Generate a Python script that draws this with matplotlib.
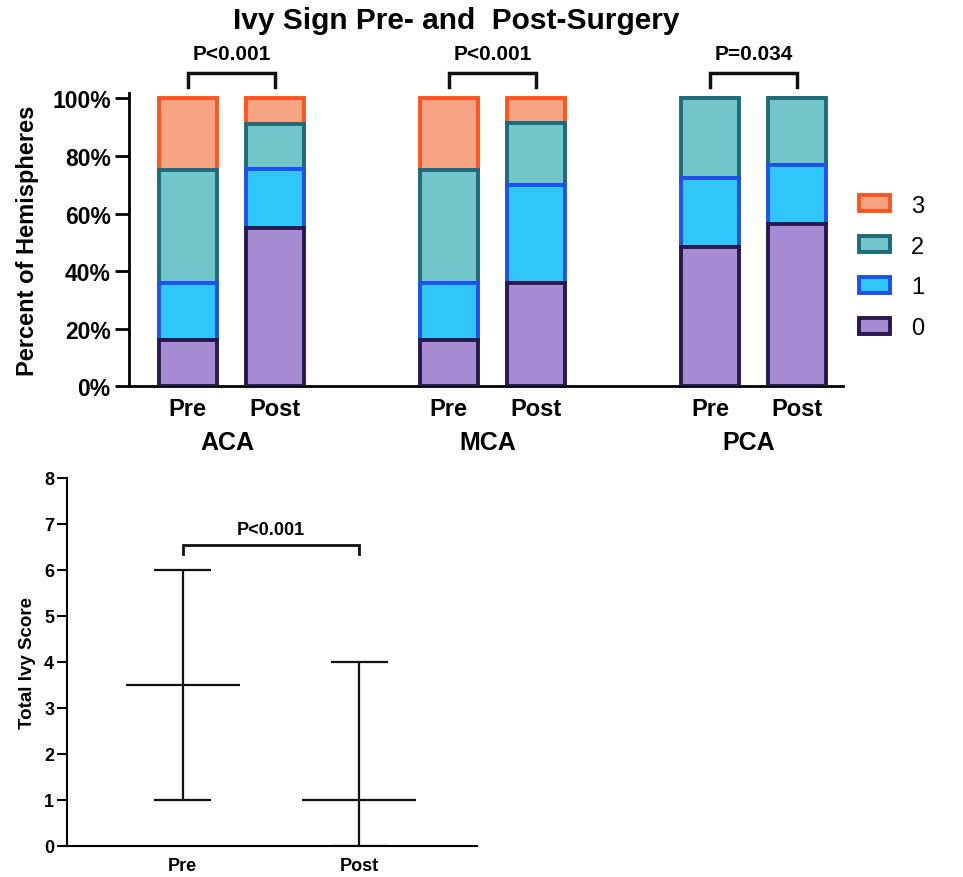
import matplotlib.pyplot as plt
from matplotlib.patches import Patch
from matplotlib.transforms import blended_transform_factory

plt.rcParams['font.family'] = ['Liberation Sans', 'DejaVu Sans']

# --- data: stacked percentages per group (score 0..3)
groups = ['ACA', 'MCA', 'PCA']
phases = ['Pre', 'Post']
score_labels = ['0', '1', '2', '3']
score0 = [16, 55, 16, 36, 48.5, 56.5]
score1 = [20, 20.5, 20, 34, 24, 20.5]
score2 = [39, 15.5, 39, 21.5, 27.5, 23]
score3 = [25, 9, 25, 8.5, 0, 0]
p_values = ['P<0.001', 'P<0.001', 'P=0.034']

# total ivy score (median with range)
box_labels = ['Pre', 'Post']
ivy_median = [3.5, 1]
ivy_min = [1, 0]
ivy_max = [6, 4]
ivy_p = 'P<0.001'

face = ['#A48BD2', '#31C6F9', '#72C6CA', '#F6A384']
edge = ['#2A1850', '#1E50EE', '#1D6B78', '#FF5420']

fig = plt.figure(figsize=(9.63, 8.78), dpi=100)
W, H = 963, 878

# ---------------- top: stacked bars
ax = fig.add_axes([128.7 / W, 1 - 387.3 / H, (843 - 128.7) / W, (387.3 - 94.3) / H])
xpos = [0, 1, 3, 4, 6, 7]
series = [score0, score1, score2, score3]
bottom = [0] * len(xpos)
for i, vals in enumerate(series):
    ax.bar(xpos, vals, bottom=bottom, width=0.66, color=face[i], edgecolor=edge[i],
           linewidth=2.8, zorder=10 - i)
    bottom = [b + v for b, v in zip(bottom, vals)]

ax.set_xlim(-0.68, 7.53)
ax.set_ylim(0, 101.8)
ax.set_yticks([0, 20, 40, 60, 80, 100])
ax.set_yticklabels([f'{t}%' for t in [0, 20, 40, 60, 80, 100]], fontsize=16.5, fontweight='bold')
ax.set_xticks(xpos)
ax.set_xticklabels(phases * 3, fontsize=17, fontweight='bold')
ax.tick_params(axis='x', length=0, pad=8)
ax.tick_params(axis='y', length=10, width=2, pad=3)
for s in ['top', 'right']:
    ax.spines[s].set_visible(False)
for s in ['left', 'bottom']:
    ax.spines[s].set_linewidth(2)
ax.set_ylabel('Percent of Hemispheres', fontsize=17, fontweight='bold')
ax.yaxis.set_label_coords(-0.125, 0.5)

trans = blended_transform_factory(ax.transData, ax.transAxes)
for g, name in enumerate(groups):
    x0, x1 = xpos[2 * g], xpos[2 * g + 1]
    ax.text((x0 + x1) / 2 - 0.05, -0.19, name, transform=trans, ha='center', va='center',
            fontsize=18, fontweight='bold')
    ax.plot([x0, x0, x1, x1], [104, 109, 109, 104], color='#111111', lw=2.5,
            clip_on=False, solid_joinstyle='miter')
    ax.text((x0 + x1) / 2, 112.5, p_values[g], ha='center', va='bottom',
            fontsize=15, fontweight='bold')

fig.text(0.474, 1 - 21 / H, 'Ivy Sign Pre- and  Post-Surgery', ha='center', va='center',
         fontsize=21.5, fontweight='bold')

handles = [Patch(facecolor=face[i], edgecolor=edge[i], linewidth=2.8, label=score_labels[i])
           for i in range(3, -1, -1)]
fig.legend(handles=handles, loc='center left', bbox_to_anchor=(838 / W, 1 - 268 / H),
           frameon=False, fontsize=17, handlelength=1.3, handleheight=0.65,
           labelspacing=0.8, handletextpad=0.9)

# ---------------- bottom: median with range
ax2 = fig.add_axes([66.7 / W, 1 - 846.7 / H, (476.7 - 66.7) / W, (846.7 - 479) / H])
bx = [1, 2]
ax2.vlines(bx, ivy_min, ivy_max, color='#111111', lw=1.6)
ax2.hlines(ivy_max, [x - 0.16 for x in bx], [x + 0.16 for x in bx], color='#111111', lw=1.6)
ax2.hlines(ivy_min, [x - 0.16 for x in bx], [x + 0.16 for x in bx], color='#111111', lw=1.6)
ax2.hlines(ivy_median, [x - 0.323 for x in bx], [x + 0.323 for x in bx], color='#111111', lw=1.6)
ax2.set_xlim(0.343, 2.665)
ax2.set_ylim(0, 8)
ax2.set_yticks(range(0, 9))
ax2.set_yticklabels([str(t) for t in range(0, 9)], fontsize=13, fontweight='bold')
ax2.set_xticks(bx)
ax2.set_xticklabels(box_labels, fontsize=13, fontweight='bold')
ax2.tick_params(axis='x', length=0, pad=8)
ax2.tick_params(axis='y', length=7, width=1.5, pad=2)
for s in ['top', 'right']:
    ax2.spines[s].set_visible(False)
for s in ['left', 'bottom']:
    ax2.spines[s].set_linewidth(1.5)
ax2.set_ylabel('Total Ivy Score', fontsize=13.5, fontweight='bold')
ax2.yaxis.set_label_coords(-0.075, 0.5)
ax2.plot([bx[0], bx[0], bx[1], bx[1]], [6.35, 6.55, 6.55, 6.35], color='#111111', lw=2,
         solid_joinstyle='miter')
ax2.text(sum(bx) / 2, 6.88, ivy_p, ha='center', va='center', fontsize=13, fontweight='bold')

fig.savefig('out.png', dpi=100)
